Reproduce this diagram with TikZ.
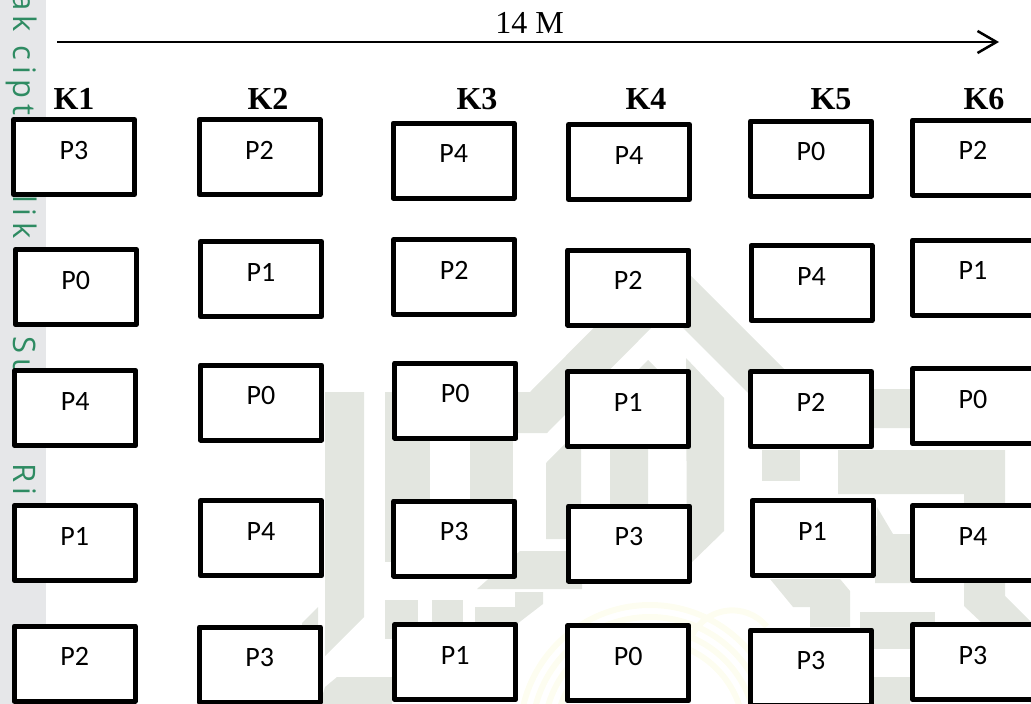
\documentclass[tikz,border=0pt]{standalone}
\usepackage{fontspec}
\setmainfont{Liberation Serif}
\newfontfamily\boxfont{Carlito}
\newfontfamily\stripfont[LetterSpace=18]{Open Sans}
\usetikzlibrary{arrows.meta}
\definecolor{stripgray}{HTML}{E6E7E9}
\definecolor{stripgreen}{HTML}{2E8B62}
\definecolor{markgray}{HTML}{E3E6E0}
\definecolor{markyellow}{HTML}{FDFDF0}
\tikzset{
  pbox/.style={draw,fill=white,line width=5pt,line join=round,minimum width=121pt,inner sep=0pt,
    text height=39.5pt,text depth=35.5pt,font=\boxfont\fontsize{28}{32}\selectfont},
  khead/.style={inner sep=0pt,font=\bfseries\fontsize{32}{36}\selectfont},
  striptext/.style={inner sep=0pt,rotate=-90,anchor=base west,text=stripgreen,
    font=\stripfont\fontsize{31}{34}\selectfont}
}
\begin{document}
\begin{tikzpicture}[x=1pt,y=-1pt]
  \clip (0,0) rectangle (1031,704);
  % left strip
  \fill[stripgray] (0,0) rectangle (46,704);
  \node[striptext] (stripa) at (13,-7) {ak cipt};
  \node[striptext] (stripb) at (13,195) {lik};
  \node[striptext] (stripc) at (13,336) {Su};
  \node[striptext] (stripd) at (13,463) {Ri};
  % faint arcs
  \foreach \r in {94,106,118,130}
    \draw[markyellow,line width=6pt] (650,735) circle (\r);
  \draw[markyellow,line width=6pt] (690,640) arc (200:320:45);
  % roof and bars
  \fill[markgray] (385,392)--(530,392)--(668,253)--(804,389)--(1000,389)--(1000,428)--(783,428)--(667,312)--(547,433)--(385,433)--cycle;
  \fill[markgray] (325,392)--(364,392)--(364,617)--(325,656)--cycle;
  \fill[markgray] (318,607)--(302,623)--(302,640)--(318,640)--cycle;
  \fill[markgray] (385,392) rectangle (430,562);
  \fill[markgray] (470,392) rectangle (513,560);
  \fill[markgray] (546,463)--(648,360)--(660,372)--(648,384)--(648,545)--(610,545)--(610,430)--(581,430)--(581,539)--(546,539)--cycle;
  \fill[markgray] (686,358)--(724,398)--(724,531)--(687,567)--cycle;
  \fill[markgray] (477,589)--(520,551)--(582,551)--(582,589)--cycle;
  \fill[markgray] (475,607)--(515,607)--(515,592)--(543,592)--(543,604)--(517,624)--(475,624)--cycle;
  \fill[markgray] (385,600) rectangle (418,639);
  \fill[markgray] (432,600) rectangle (463,639);
  \fill[markgray] (325,687)--(337,677)--(392,677)--(392,704)--(320,704)--cycle;
  % right side
  \fill[markgray] (838,450)--(1005,450)--(1005,596)--(1031,622)--(1031,704)--(1000,640)--(964,606)--(964,494)--(838,494)--cycle;
  \fill[markgray] (762,450) rectangle (800,481);
  \fill[markgray] (877,507)--(893,534)--(910,534)--(910,583)--(875,583)--cycle;
  \fill[markgray] (770,579)--(840,579)--(850,591)--(850,627)--(810,627)--(810,607)--(793,607)--cycle;
  \fill[markgray] (860,612)--(935,612)--(935,649)--(860,649)--cycle;
  \fill[markgray] (873,677) rectangle (910,704);
  % span arrow
  \coordinate (spanstart) at (57,42);
  \coordinate (spanend) at (999,42);
  \draw[line width=2.5pt,-{Straight Barb[length=19pt,width=22pt]}] (spanstart)--(spanend);
  \node[inner sep=0pt,font=\fontsize{32}{36}\selectfont] (spanlabel) at (529.5,22.5) {14 M};
  % column heads
  \node[khead] (k1) at (74,99) {K1};
  \node[khead] (k2) at (268,99) {K2};
  \node[khead] (k3) at (477,99) {K3};
  \node[khead] (k4) at (646,99) {K4};
  \node[khead] (k5) at (831,99) {K5};
  \node[khead] (k6) at (984,99) {K6};
  % K1
  \node[pbox] (a1) at (74,157) {P3};
  \node[pbox] (a2) at (75.7,287) {P0};
  \node[pbox] (a3) at (75.3,408) {P4};
  \node[pbox] (a4) at (74.7,543) {P1};
  \node[pbox] (a5) at (74.7,663.5) {P2};
  % K2
  \node[pbox] (b1) at (259.5,157) {P2};
  \node[pbox] (b2) at (261,279) {P1};
  \node[pbox] (b3) at (261,402.5) {P0};
  \node[pbox] (b4) at (261,538.3) {P4};
  \node[pbox] (b5) at (259.8,664.5) {P3};
  % K3
  \node[pbox] (c1) at (453.7,160.7) {P4};
  \node[pbox] (c2) at (454.3,277) {P2};
  \node[pbox] (c3) at (455.3,400.5) {P0};
  \node[pbox] (c4) at (454.3,538.5) {P3};
  \node[pbox] (c5) at (455.3,662) {P1};
  % K4
  \node[pbox] (d1) at (629,162) {P4};
  \node[pbox] (d2) at (628.3,287.5) {P2};
  \node[pbox] (d3) at (628.3,409) {P1};
  \node[pbox] (d4) at (629,543.5) {P3};
  \node[pbox] (d5) at (628.3,663) {P0};
  % K5
  \node[pbox] (e1) at (811,158.5) {P0};
  \node[pbox] (e2) at (811.5,283) {P4};
  \node[pbox] (e3) at (811,409) {P2};
  \node[pbox] (e4) at (812.5,538) {P1};
  \node[pbox] (e5) at (811,667.5) {P3};
  % K6
  \node[pbox] (f1) at (973,157.5) {P2};
  \node[pbox] (f2) at (973,277.5) {P1};
  \node[pbox] (f3) at (973,406.3) {P0};
  \node[pbox] (f4) at (973,543) {P4};
  \node[pbox] (f5) at (973,662) {P3};
\end{tikzpicture}
\end{document}
